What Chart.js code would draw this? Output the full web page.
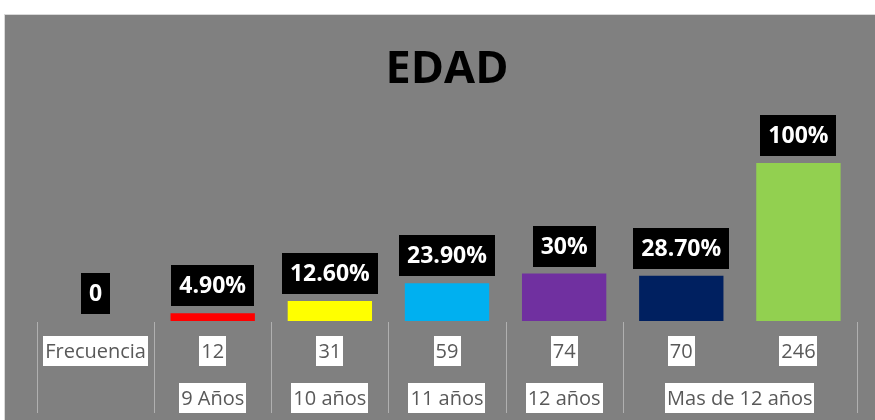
<!DOCTYPE html>
<html>
<head>
<meta charset="utf-8">
<script src="https://cdn.jsdelivr.net/npm/chart.js@4.4.1/dist/chart.umd.min.js"></script>
<style>
  body { margin: 0; background: #ffffff; }
  #wrap { width: 875px; height: 420px; }
</style>
</head>
<body>
<div id="wrap"><canvas id="edadChart"></canvas></div>
<script>
var frecuencias = ["Frecuencia", "12", "31", "59", "74", "70", "246"];
var porcentajes = [0, 4.9, 12.6, 23.9, 30, 28.7, 100];
var etiquetas = ["0", "4.90%", "12.60%", "23.90%", "30%", "28.70%", "100%"];
var edades = ["", "9 Años", "10 años", "11 años", "12 años", "Mas de 12 años"];
var spanEdades = [1, 1, 1, 1, 1, 2];
var barColors = ["#808080", "#ff0000", "#ffff00", "#00b0f0", "#7030a0", "#002060", "#92d050"];

// fondo gris con borde
var fondo = {
    id: "fondo",
    beforeDraw: function (chart) {
        var ctx = chart.ctx;
        ctx.save();
        ctx.fillStyle = "#ffffff";
        ctx.fillRect(0, 0, chart.width, chart.height);
        ctx.fillStyle = "#808080";
        ctx.fillRect(4, 14, chart.width - 4, chart.height - 14);
        ctx.strokeStyle = "#d9d9d9";
        ctx.lineWidth = 1;
        ctx.strokeRect(4.5, 14.5, chart.width, chart.height);
        ctx.fillStyle = "#000000";
        ctx.font = "bold 45px 'Open Sans'";
        ctx.textAlign = "center";
        ctx.textBaseline = "alphabetic";
        var a = chart.chartArea;
        ctx.fillText("EDAD", (a.left + a.right) / 2, 83);
        ctx.restore();
    }
};

// etiquetas negras sobre las barras
var etiquetasBarras = {
    id: "etiquetasBarras",
    afterDatasetsDraw: function (chart) {
        var ctx = chart.ctx;
        var bars = chart.getDatasetMeta(0).data;
        ctx.save();
        ctx.font = "bold 23px 'Open Sans'";
        ctx.textAlign = "center";
        ctx.textBaseline = "middle";
        bars.forEach(function (bar, i) {
            var txt = etiquetas[i];
            var w = ctx.measureText(txt).width + 16;
            var h = 41;
            var bottom = bar.y - 7;
            ctx.fillStyle = "#000000";
            ctx.fillRect(Math.round(bar.x - w / 2), Math.round(bottom - h), Math.round(w), h);
            ctx.fillStyle = "#ffffff";
            ctx.fillText(txt, bar.x, bottom - h / 2 + 1);
        });
        ctx.restore();
    }
};

// tabla bajo el eje
var tabla = {
    id: "tabla",
    afterDraw: function (chart) {
        var ctx = chart.ctx;
        var x = chart.scales.x;
        var a = chart.chartArea;
        var step = x.getPixelForValue(1) - x.getPixelForValue(0);
        ctx.save();
        ctx.strokeStyle = "#b0b0b0";
        ctx.lineWidth = 1;
        for (var i = 0; i <= frecuencias.length; i++) {
            if (i === frecuencias.length - 1) continue;
            var lx = Math.round(x.getPixelForValue(0) - step / 2 + i * step) + 0.5;
            ctx.beginPath();
            ctx.moveTo(lx, a.bottom + 1);
            ctx.lineTo(lx, 413);
            ctx.stroke();
        }
        ctx.font = "20px 'Open Sans'";
        ctx.textAlign = "center";
        ctx.textBaseline = "middle";
        function celda(txt, cx, cy) {
            if (!txt) return;
            var w = ctx.measureText(txt).width + 4;
            ctx.fillStyle = "#ffffff";
            ctx.fillRect(Math.round(cx - w / 2), Math.round(cy - 15), Math.round(w), 30);
            ctx.fillStyle = "#595959";
            ctx.fillText(txt, cx, cy + 1);
        }
        frecuencias.forEach(function (t, i) {
            celda(t, x.getPixelForValue(i), a.bottom + 30);
        });
        var col = 0;
        edades.forEach(function (t, i) {
            var span = spanEdades[i];
            var cx = (x.getPixelForValue(col) + x.getPixelForValue(col + span - 1)) / 2;
            celda(t, cx, a.bottom + 77);
            col += span;
        });
        ctx.restore();
    }
};

new Chart("edadChart", {
    type: "bar",
    data: {
        labels: frecuencias,
        datasets: [
            {
                backgroundColor: barColors,
                data: porcentajes,
                borderWidth: 0,
                barPercentage: 0.72,
                categoryPercentage: 1.0,
            },
        ],
    },
    options: {
        responsive: true,
        maintainAspectRatio: false,
        animation: false,
        layout: {
            padding: { left: 37, right: 18, top: 163, bottom: 99 },
        },
        plugins: {
            legend: { display: false },
            title: { display: false },
            tooltip: { enabled: false },
        },
        scales: {
            x: { display: false },
            y: { display: false, min: 0, max: 100 },
        },
    },
    plugins: [fondo, etiquetasBarras, tabla],
});
</script>
</body>
</html>
